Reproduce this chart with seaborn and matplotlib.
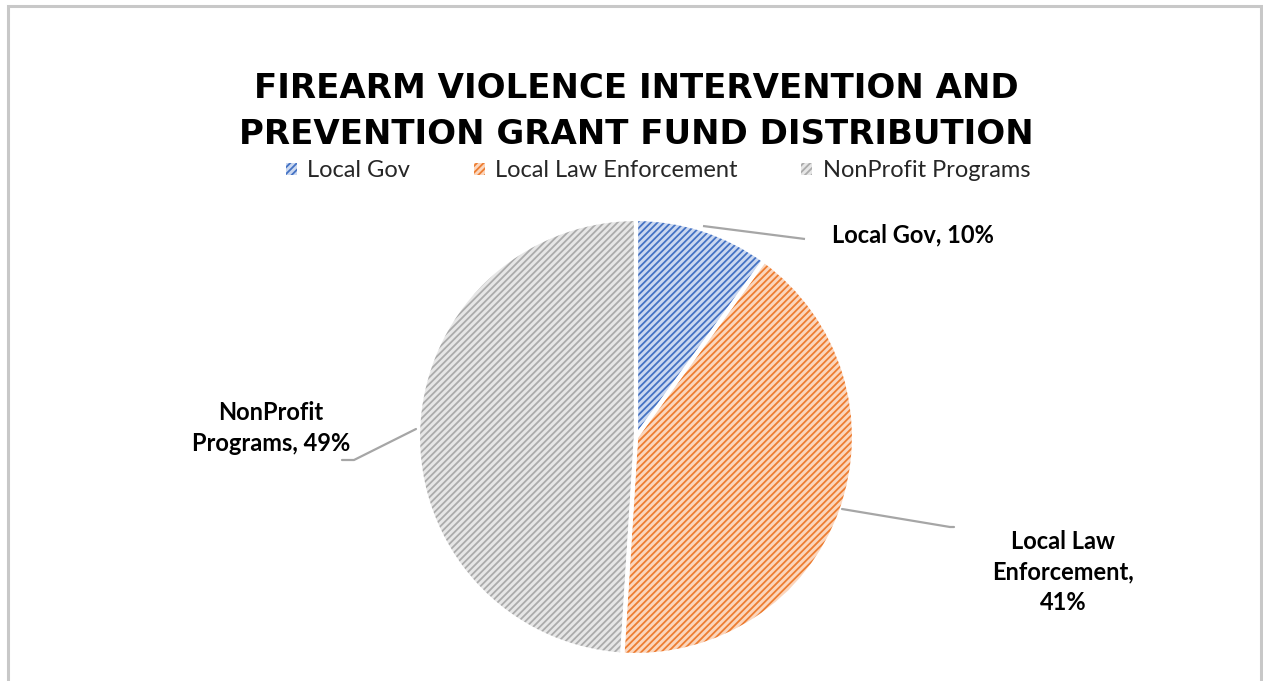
import matplotlib
matplotlib.use("Agg")
import matplotlib.pyplot as plt
from matplotlib.patches import Patch, Rectangle
import seaborn as sns

categories = ["Local Gov", "Local Law Enforcement", "NonProfit Programs"]
shares = [10, 41, 49]
label_texts = ["Local Gov, 10%", "Local Law\nEnforcement,\n41%", "NonProfit\nPrograms, 49%"]
title_lines = ["FIREARM VIOLENCE INTERVENTION AND", "PREVENTION GRANT FUND DISTRIBUTION"]

line_colors = ["#4472C4", "#ED7D31", "#ABABAB"]
fill_colors = ["#CBD8F0", "#FBD6BD", "#E6E6E6"]

sns.set_theme(style="white")
plt.rcParams["font.family"] = ["Lato", "DejaVu Sans"]
plt.rcParams["hatch.linewidth"] = 1.3

W, H = 1263, 681
fig = plt.figure(figsize=(W / 100, H / 100), dpi=100)
ax = fig.add_axes([0, 0, 1, 1])

def Y(y):
    return H - y

cx, cy, r = 636, Y(437), 218
wedges, _ = ax.pie(shares, colors=fill_colors, startangle=90, counterclock=False,
                   center=(cx, cy), radius=r, frame=True)
for w, lc in zip(wedges, line_colors):
    w.set_edgecolor(lc)
    w.set_linewidth(0)
    w.set_hatch("/////")
ax.pie(shares, colors=["none"] * 3, startangle=90, counterclock=False,
       center=(cx, cy), radius=r, frame=True,
       wedgeprops=dict(edgecolor="white", linewidth=3, fill=False))
ax.set_xlim(0, W)
ax.set_ylim(0, H)
ax.set_aspect("equal")
ax.axis("off")

# border
ax.add_patch(Rectangle((8, Y(690)), 1253, 684, fill=False, edgecolor="#C8C8C8", lw=2.2))

# leader lines
lc = "#A6A6A6"
ax.plot([703, 805], [Y(226), Y(239)], color=lc, lw=1.6, solid_capstyle="butt")
ax.plot([842, 950, 954], [Y(509), Y(527), Y(527)], color=lc, lw=1.6)
ax.plot([416, 354, 342], [Y(429), Y(460), Y(460)], color=lc, lw=1.6)

lab_kw = dict(fontsize=17, fontweight="bold", color="black", linespacing=1.4)
ax.text(832, Y(235), label_texts[0], ha="left", va="center", **lab_kw)
ax.text(1063, Y(572), label_texts[1], ha="center", va="center", **lab_kw)
ax.text(271, Y(428), label_texts[2], ha="center", va="center", **lab_kw)

# title
for txt, yy in zip(title_lines, [88, 135]):
    ax.text(636, Y(yy), txt, ha="center", va="center", fontsize=24.5,
            fontweight="bold", color="black", family=["DejaVu Sans"])

handles = [Patch(facecolor=f, edgecolor=l, hatch="/////", linewidth=0)
           for f, l in zip(fill_colors, line_colors)]
fig.legend(handles, categories, loc="center", bbox_to_anchor=(658 / W, 1 - 171 / H),
           ncol=3, frameon=False, fontsize=17, handlelength=0.45, handleheight=0.45,
           handletextpad=0.45, columnspacing=2.7)

fig.savefig("out.png", dpi=100)
